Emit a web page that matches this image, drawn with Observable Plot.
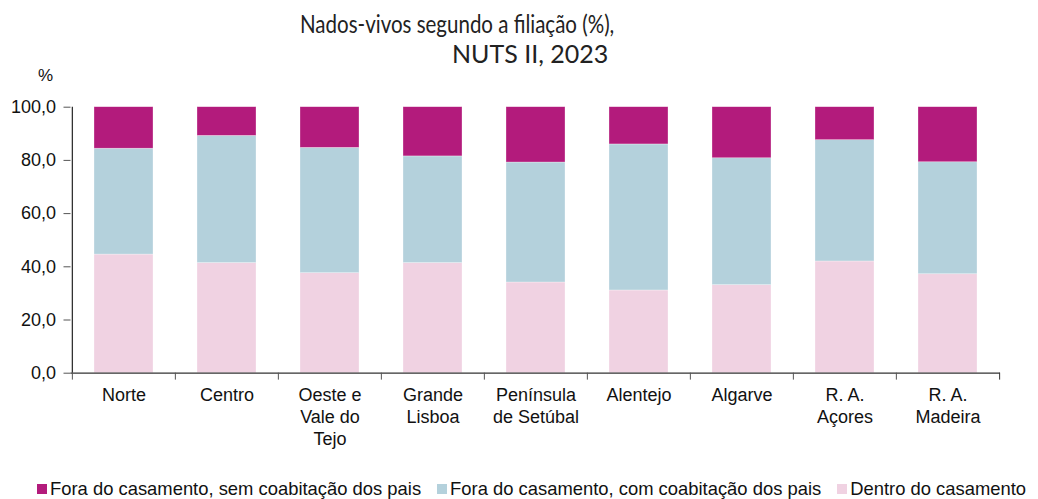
<!DOCTYPE html>
<html><head><meta charset="utf-8">
<script src="https://cdn.jsdelivr.net/npm/d3@7"></script>
<script src="https://cdn.jsdelivr.net/npm/@observablehq/plot@0.6"></script>
<style>
body{margin:0;background:#fff;}
#wrap{position:relative;width:1038px;height:499px;overflow:hidden;font-family:"Liberation Sans",Arial,sans-serif;}
.t{position:absolute;white-space:nowrap;font-family:Lato,"Liberation Sans",sans-serif;font-size:25px;color:#222;line-height:1;transform-origin:0 0;}
#legend{position:absolute;left:37px;top:478px;display:flex;font-size:18.4px;color:#111;white-space:nowrap;}
.li{display:flex;align-items:center;margin-right:16px;}
.sw{width:10px;height:10px;margin-right:3px;}
#chart{position:absolute;left:0;top:0;}
#pct{position:absolute;left:38px;top:66px;font-size:17px;color:#111;}
</style></head>
<body><div id="wrap">
<div class="t" id="t1" style="left:300px;top:11px;transform:scaleX(0.82);">Nados-vivos segundo a filiação (%),</div>
<div class="t" id="t2" style="left:452px;top:41px;">NUTS II, 2023</div>
<div id="pct">%</div>
<div id="chart"></div>
<div id="legend"></div>
</div>
<script>
const categories = ["Norte","Centro","Oeste e\nVale do\nTejo","Grande\nLisboa","Península\nde Setúbal","Alentejo","Algarve","R. A.\nAçores","R. A.\nMadeira"];
const series = ["Dentro do casamento","Fora do casamento, com coabitação dos pais","Fora do casamento, sem coabitação dos pais"];
const dentro = [44.6, 41.4, 37.6, 41.4, 34.1, 31.1, 33.1, 42.0, 37.2];
const comCoab = [39.8, 47.8, 47.1, 40.1, 45.1, 54.9, 47.7, 45.6, 42.1];
const semCoab = [15.6, 10.8, 15.3, 18.5, 20.8, 14.0, 19.2, 12.4, 20.7];
const yTicks = [0, 20, 40, 60, 80, 100];
const colors = ["#f0d2e2", "#b4d1dc", "#b31b7c"];
const legendOrder = [2, 1, 0];

const rows = [];
categories.forEach((c, i) => {
  rows.push({cat: c, serie: series[0], v: dentro[i]});
  rows.push({cat: c, serie: series[1], v: comCoab[i]});
  rows.push({cat: c, serie: series[2], v: semCoab[i]});
});

const W = 1038, H = 460, mL = 70.5, mR = 38, mT = 106.7, mB = H - 372.7;
const step = (W - mL - mR) / categories.length;
const fmt = d => d.toFixed(1).replace(".", ",");

const plot = Plot.plot({
  width: W, height: H,
  marginLeft: mL, marginRight: mR, marginTop: mT, marginBottom: mB,
  style: {fontFamily: '"Liberation Sans", Arial, sans-serif', fontSize: "18px", color: "#111", background: "transparent"},
  x: {domain: categories, paddingInner: 0.43, paddingOuter: 0.215, axis: null},
  y: {domain: [0, 100], axis: null},
  color: {domain: series, range: colors},
  marks: [
    Plot.barY(rows, {x: "cat", y: "v", fill: "serie", stroke: "#fff", strokeOpacity: 0.5, strokeWidth: 0.6}),
    Plot.axisY({ticks: yTicks, tickFormat: fmt, tickSize: 7, tickPadding: 8, fontSize: 18, stroke: "#555", color: "#111", label: null}),
    Plot.ruleX([categories[0]], {x: d => d, y1: 0, y2: 100, dx: -step / 2, stroke: "#333", strokeWidth: 1.3}),
    Plot.ruleY([0], {stroke: "#333", strokeWidth: 1.3}),
    Plot.ruleX(categories, {x: d => d, y1: 0, y2: -2.6, dx: -step / 2, stroke: "#555"}),
    Plot.ruleX([categories[categories.length - 1]], {x: d => d, y1: 0, y2: -2.6, dx: step / 2, stroke: "#333"}),
    Plot.text(categories, {x: d => d, y: 0, text: d => d, lineAnchor: "top", dy: 12, lineHeight: 1.22, fontSize: 18, fill: "#111"})
  ]
});
document.getElementById("chart").appendChild(plot);

const lg = document.getElementById("legend");
legendOrder.forEach(i => {
  const it = document.createElement("div"); it.className = "li";
  const sw = document.createElement("div"); sw.className = "sw"; sw.style.background = colors[i];
  const tx = document.createElement("span"); tx.textContent = series[i];
  it.appendChild(sw); it.appendChild(tx); lg.appendChild(it);
});
</script>
</body></html>
